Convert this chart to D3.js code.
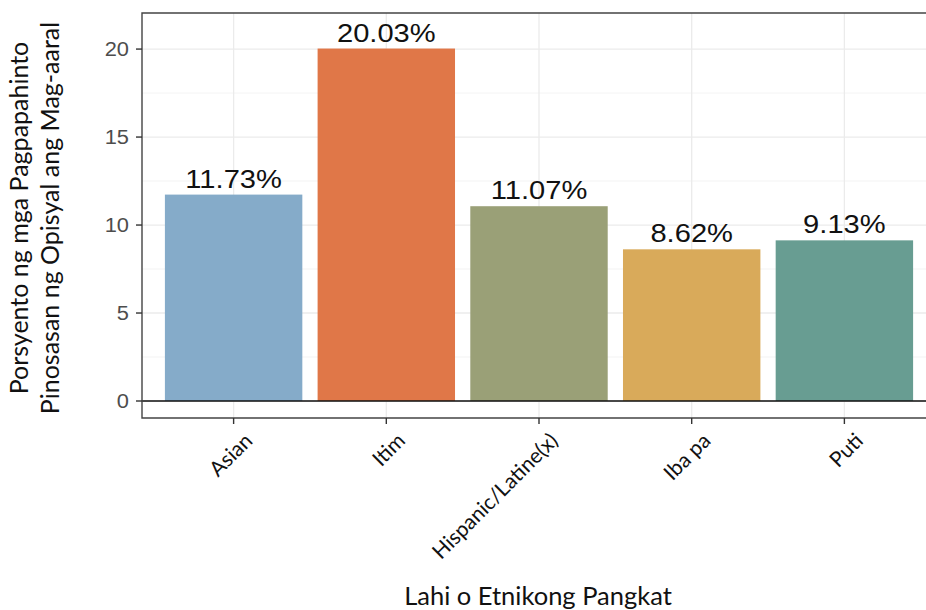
<!DOCTYPE html>
<html>
<head>
<meta charset="utf-8">
<script src="https://cdn.jsdelivr.net/npm/d3@7"></script>
<style>
  html, body { margin: 0; padding: 0; background: #fff; }
  svg { display: block; }
</style>
</head>
<body>
<script>
const categories = ["Asian", "Itim", "Hispanic/Latine(x)", "Iba pa", "Puti"];
const values = [11.73, 20.03, 11.07, 8.62, 9.13];
const valueLabels = ["11.73%", "20.03%", "11.07%", "8.62%", "9.13%"];
const colors = ["#85abc9", "#e07748", "#9aa077", "#d9aa5a", "#689d92"];
const yTicks = [0, 5, 10, 15, 20];
const yMinor = [2.5, 7.5, 12.5, 17.5];
const xTitle = "Lahi o Etnikong Pangkat";
const yTitle = ["Porsyento ng mga Pagpapahinto", "Pinosasan ng Opisyal ang Mag-aaral"];

const W = 926, H = 610;
const panel = { left: 142, top: 13, right: 936, bottom: 418 };
const stretch = 1.12;

const svg = d3.select("body").append("svg").attr("width", W).attr("height", H);

const x = d3.scaleBand().domain(categories)
  .range([panel.left, panel.right]).paddingInner(0.1).paddingOuter(0.15);
const y = d3.scaleLinear().domain([-0.966, 22.05]).range([panel.bottom, panel.top]);

const data = categories.map((c, i) => ({ c, v: values[i], lab: valueLabels[i], col: colors[i] }));

// grid
const g = svg.append("g");
g.selectAll(".minor").data(yMinor).enter().append("line")
  .attr("x1", panel.left).attr("x2", panel.right)
  .attr("y1", d => y(d)).attr("y2", d => y(d))
  .attr("stroke", "#f0f0f0").attr("stroke-width", 0.8);
g.selectAll(".major").data(yTicks).enter().append("line")
  .attr("x1", panel.left).attr("x2", panel.right)
  .attr("y1", d => y(d)).attr("y2", d => y(d))
  .attr("stroke", "#ebebeb").attr("stroke-width", 1.3);
g.selectAll(".vmajor").data(categories).enter().append("line")
  .attr("x1", d => x(d) + x.bandwidth() / 2).attr("x2", d => x(d) + x.bandwidth() / 2)
  .attr("y1", panel.top).attr("y2", panel.bottom)
  .attr("stroke", "#ebebeb").attr("stroke-width", 1.3);

// bars
svg.selectAll(".bar").data(data).enter().append("rect")
  .attr("x", d => x(d.c)).attr("width", x.bandwidth())
  .attr("y", d => y(d.v)).attr("height", d => y(0) - y(d.v))
  .attr("fill", d => d.col);

// zero line
svg.append("line").attr("x1", panel.left).attr("x2", panel.right)
  .attr("y1", y(0)).attr("y2", y(0)).attr("stroke", "#111").attr("stroke-width", 1.6);

// value labels
svg.selectAll(".vl").data(data).enter().append("text")
  .attr("transform", d => `translate(${x(d.c) + x.bandwidth() / 2},${y(d.v) - 7}) scale(${stretch},1)`)
  .attr("text-anchor", "middle")
  .attr("font-family", "'Liberation Sans', Arial, sans-serif")
  .attr("font-size", 26).attr("fill", "#111")
  .text(d => d.lab);

// panel border (top, left, bottom)
svg.append("path")
  .attr("d", `M${panel.right},${panel.top}H${panel.left}V${panel.bottom}H${panel.right}`)
  .attr("fill", "none").attr("stroke", "#444").attr("stroke-width", 1.4);

// y axis
const yAxis = svg.append("g");
yAxis.selectAll("line").data(yTicks).enter().append("line")
  .attr("x1", panel.left - 6).attr("x2", panel.left)
  .attr("y1", d => y(d)).attr("y2", d => y(d))
  .attr("stroke", "#333").attr("stroke-width", 1.4);
yAxis.selectAll("text").data(yTicks).enter().append("text")
  .attr("transform", d => `translate(${panel.left - 13},${y(d) + 7}) scale(${stretch},1)`)
  .attr("text-anchor", "end")
  .attr("font-family", "'Liberation Sans', Arial, sans-serif")
  .attr("font-size", 19.5).attr("fill", "#4d4d4d")
  .text(d => d);

// x axis
const xAxis = svg.append("g");
xAxis.selectAll("line").data(categories).enter().append("line")
  .attr("x1", d => x(d) + x.bandwidth() / 2).attr("x2", d => x(d) + x.bandwidth() / 2)
  .attr("y1", panel.bottom).attr("y2", panel.bottom + 6)
  .attr("stroke", "#333").attr("stroke-width", 1.4);
xAxis.selectAll("text").data(categories).enter().append("text")
  .attr("transform", d => `translate(${x(d) + x.bandwidth() / 2 + 9},${panel.bottom + 13}) rotate(-45)`)
  .attr("text-anchor", "end")
  .attr("dy", "0.75em")
  .attr("font-family", "Lato, 'Open Sans', sans-serif")
  .attr("font-size", 21).attr("fill", "#111")
  .text(d => d);

// titles
svg.append("text")
  .attr("x", 538).attr("y", 605)
  .attr("text-anchor", "middle")
  .attr("font-family", "Lato, 'Open Sans', sans-serif")
  .attr("font-size", 25.5).attr("fill", "#111")
  .text(xTitle);

yTitle.forEach((t, i) => {
  svg.append("text")
    .attr("transform", `translate(${28 + i * 31},${218}) rotate(-90)`)
    .attr("text-anchor", "middle")
    .attr("font-family", "Lato, 'Open Sans', sans-serif")
    .attr("font-size", 25).attr("fill", "#111")
    .text(t);
});
</script>
</body>
</html>
